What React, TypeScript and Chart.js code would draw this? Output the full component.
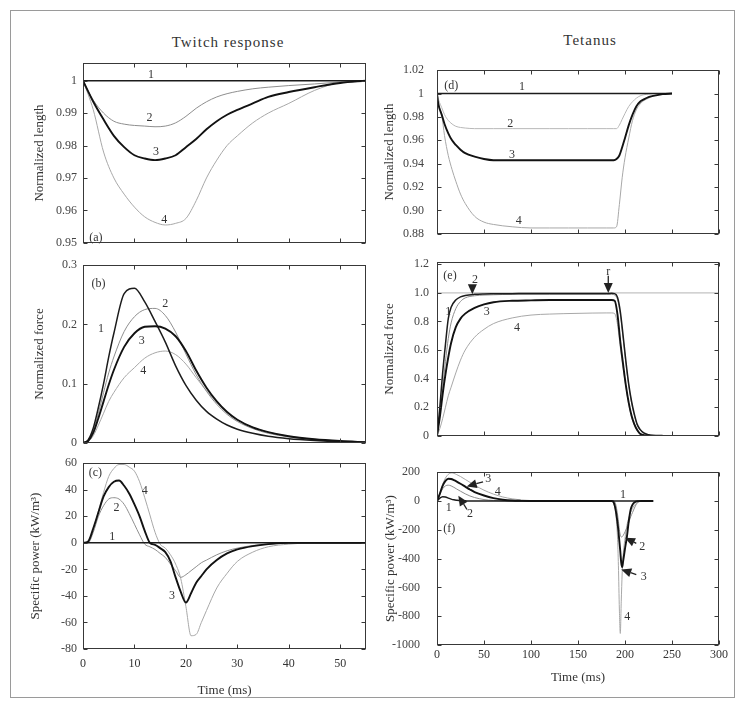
import React, { useEffect, useRef } from 'react';
import { Chart, registerables } from 'chart.js';

Chart.register(...registerables);
const SERIF = "'Liberation Serif', 'Times New Roman', serif";
Chart.defaults.font.family = SERIF;

// ---------- axis ticks ----------
const TW_X_TICKS = [0, 10, 20, 30, 40, 50];
const TW_X_LABELS = ['0', '10', '20', '30', '40', '50'];
const TE_X_TICKS = [0, 50, 100, 150, 200, 250, 300];
const TE_X_LABELS = ['0', '50', '100', '150', '200', '250', '300'];

const A_Y_TICKS = [0.95, 0.96, 0.97, 0.98, 0.99, 1];
const A_Y_LABELS = ['0.95', '0.96', '0.97', '0.98', '0.99', '1'];
const B_Y_TICKS = [0, 0.1, 0.2, 0.3];
const B_Y_LABELS = ['0', '0.1', '0.2', '0.3'];
const C_Y_TICKS = [-80, -60, -40, -20, 0, 20, 40, 60];
const C_Y_LABELS = ['-80', '-60', '-40', '-20', '0', '20', '40', '60'];
const D_Y_TICKS = [0.88, 0.9, 0.92, 0.94, 0.96, 0.98, 1, 1.02];
const D_Y_LABELS = ['0.88', '0.90', '0.92', '0.94', '0.96', '0.98', '1', '1.02'];
const E_Y_TICKS = [0, 0.2, 0.4, 0.6, 0.8, 1.0, 1.2];
const E_Y_LABELS = ['0', '0.2', '0.4', '0.6', '0.8', '1.0', '1.2'];
const F_Y_TICKS = [-1000, -800, -600, -400, -200, 0, 200];
const F_Y_LABELS = ['-1000', '-800', '-600', '-400', '-200', '0', '200'];

// ---------- (a) twitch, normalized length ----------
const A_T = [0, 2, 4, 6, 8, 10, 12, 14, 16, 18, 20, 22, 24, 26, 28, 30, 33, 36, 40, 45, 50, 55];
const A_1 = [1, 1, 1, 1, 1, 1, 1, 1, 1, 1, 1, 1, 1, 1, 1, 1, 1, 1, 1, 1, 1, 1];
const A_2 = [1.0, 0.994, 0.99, 0.9875, 0.9866, 0.9862, 0.986, 0.9858, 0.986, 0.987, 0.989, 0.9915, 0.9935, 0.995, 0.996, 0.9967, 0.9975, 0.998, 0.9985, 0.999, 0.9996, 1.0];
const A_3 = [1.0, 0.9935, 0.988, 0.983, 0.9795, 0.977, 0.976, 0.9755, 0.976, 0.977, 0.9795, 0.982, 0.985, 0.9875, 0.9895, 0.991, 0.993, 0.995, 0.9965, 0.998, 0.9993, 1.0];
const A_4 = [1.0, 0.991, 0.978, 0.97, 0.965, 0.961, 0.958, 0.9563, 0.9555, 0.956, 0.9575, 0.963, 0.97, 0.9755, 0.98, 0.983, 0.987, 0.99, 0.993, 0.997, 0.9995, 1.0];

// ---------- (b) twitch, normalized force ----------
const B_T = [0, 1, 2, 3, 4, 5, 6, 8, 10, 12, 14, 16, 18, 20, 22, 24, 26, 28, 30, 33, 36, 40, 45, 50, 55];
const B_1 = [0, 0.005, 0.025, 0.06, 0.1, 0.145, 0.185, 0.252, 0.261, 0.238, 0.205, 0.17, 0.13, 0.097, 0.072, 0.053, 0.04, 0.03, 0.023, 0.016, 0.011, 0.007, 0.004, 0.002, 0.001];
const B_2 = [0, 0.004, 0.02, 0.05, 0.085, 0.118, 0.145, 0.188, 0.213, 0.225, 0.227, 0.215, 0.187, 0.15, 0.115, 0.087, 0.065, 0.048, 0.036, 0.024, 0.016, 0.01, 0.005, 0.002, 0.001];
const B_3 = [0, 0.003, 0.017, 0.042, 0.07, 0.098, 0.123, 0.162, 0.185, 0.196, 0.197, 0.193, 0.18, 0.155, 0.122, 0.093, 0.07, 0.052, 0.039, 0.026, 0.018, 0.011, 0.006, 0.003, 0.001];
const B_4 = [0, 0.002, 0.012, 0.03, 0.05, 0.07, 0.085, 0.11, 0.127, 0.143, 0.152, 0.155, 0.149, 0.133, 0.11, 0.088, 0.068, 0.051, 0.039, 0.026, 0.018, 0.011, 0.006, 0.003, 0.001];

// ---------- (c) twitch, specific power ----------
const C_T = [0, 1, 2, 3, 4, 5, 6, 7, 8, 9, 10, 11, 12, 13, 14, 15, 16, 17, 18, 19, 20, 21, 22, 23, 24, 26, 28, 30, 33, 36, 40, 45, 50, 55];
const C_1 = [0, 0, 0, 0, 0, 0, 0, 0, 0, 0, 0, 0, 0, 0, 0, 0, 0, 0, 0, 0, 0, 0, 0, 0, 0, 0, 0, 0, 0, 0, 0, 0, 0, 0];
const C_2 = [0, 0, 8, 20, 28, 33, 34, 33, 29, 22, 14, 6, -1, -3, -5, -8, -11, -16, -21, -26, -24, -21, -18, -15, -13, -9, -6, -4, -2, -1, 0, 0, 0, 0];
const C_3 = [0, 1, 11, 23, 35, 42, 46, 47, 43, 37, 29, 20, 9, 0, -1.5, -4, -7, -14, -26, -37, -45, -38, -30, -25, -20, -13, -8, -5, -2.5, -1, 0, 0, 0, 0];
const C_4 = [0, 1, 10, 24, 38, 50, 56, 59, 59, 57, 54, 46, 34, 21, 8, -1, -4, -9, -16, -27, -48, -70, -69, -60, -51, -34, -23, -14, -7, -3, -1, 0, 0, 0];

// ---------- (d) tetanus, normalized length ----------
const D_T = [0, 1, 2, 5, 8, 12, 16, 20, 25, 30, 40, 50, 60, 80, 100, 120, 140, 160, 180, 188, 191, 194, 197, 200, 204, 208, 212, 216, 220, 225, 230, 240, 250];
const D_1 = [1, 1, 1, 1, 1, 1, 1, 1, 1, 1, 1, 1, 1, 1, 1, 1, 1, 1, 1, 1, 1, 1, 1, 1, 1, 1, 1, 1, 1, 1, 1, 1, 1];
const D_2 = [1, 0.997, 0.994, 0.988, 0.982, 0.977, 0.974, 0.972, 0.971, 0.9705, 0.97, 0.97, 0.97, 0.97, 0.97, 0.97, 0.97, 0.97, 0.97, 0.97, 0.97, 0.973, 0.978, 0.983, 0.989, 0.993, 0.996, 0.998, 0.999, 0.9995, 1, 1, 1];
const D_3 = [1, 0.993, 0.989, 0.982, 0.974, 0.966, 0.96, 0.956, 0.952, 0.949, 0.946, 0.944, 0.943, 0.943, 0.943, 0.943, 0.943, 0.943, 0.943, 0.943, 0.944, 0.947, 0.954, 0.962, 0.973, 0.982, 0.989, 0.993, 0.995, 0.997, 0.998, 0.9995, 1];
const D_4 = [1, 0.995, 0.99, 0.982, 0.964, 0.947, 0.935, 0.925, 0.914, 0.906, 0.895, 0.89, 0.888, 0.886, 0.885, 0.885, 0.885, 0.885, 0.885, 0.885, 0.886, 0.905, 0.928, 0.945, 0.962, 0.977, 0.986, 0.991, 0.994, 0.996, 0.998, 0.9995, 1];

// ---------- (e) tetanus, normalized force ----------
const E_T = [0, 3, 6, 9, 12, 15, 20, 25, 30, 40, 50, 60, 80, 100, 120, 150, 180, 186, 189, 192, 195, 198, 201, 204, 207, 210, 213, 216, 220, 225, 230, 240];
const E_1 = [0, 0.2, 0.44, 0.64, 0.82, 0.9, 0.95, 0.972, 0.982, 0.99, 0.993, 0.994, 0.995, 0.996, 0.996, 0.996, 0.996, 0.997, 0.995, 0.97, 0.87, 0.7, 0.52, 0.36, 0.24, 0.15, 0.08, 0.045, 0.02, 0.007, 0.002, 0];
const E_2 = [0, 0.14, 0.33, 0.52, 0.68, 0.79, 0.89, 0.94, 0.965, 0.98, 0.985, 0.987, 0.99, 0.99, 0.99, 0.99, 0.99, 0.99, 0.985, 0.955, 0.85, 0.68, 0.5, 0.35, 0.23, 0.14, 0.075, 0.04, 0.018, 0.006, 0.002, 0];
const E_3 = [0, 0.13, 0.29, 0.43, 0.55, 0.65, 0.76, 0.82, 0.855, 0.895, 0.92, 0.935, 0.945, 0.948, 0.95, 0.95, 0.95, 0.95, 0.945, 0.85, 0.66, 0.5, 0.35, 0.23, 0.14, 0.08, 0.04, 0.015, 0.005, 0.001, 0, 0];
const E_4 = [0, 0.05, 0.12, 0.2, 0.28, 0.34, 0.44, 0.53, 0.6, 0.69, 0.745, 0.785, 0.825, 0.845, 0.852, 0.857, 0.86, 0.86, 0.855, 0.78, 0.62, 0.47, 0.34, 0.22, 0.13, 0.075, 0.035, 0.015, 0.005, 0.001, 0, 0];
const E_REF_T = [0, 300];
const E_REF = [1, 1];

// ---------- (f) tetanus, specific power ----------
const F_T = [0, 3, 6, 9, 12, 15, 18, 21, 25, 30, 35, 40, 50, 60, 70, 80, 90, 100, 110, 150, 186, 188, 190, 192, 193, 194, 195, 196, 197, 198, 200, 202, 204, 206, 208, 211, 214, 218, 222, 230];
const F_1 = [0, 20, 30, 28, 20, 13, 8, 5, 2, 1, 0, 0, 0, 0, 0, 0, 0, 0, 0, 0, 0, 0, 0, 0, 0, 0, 0, 0, 0, 0, 0, 0, 0, 0, 0, 0, 0, 0, 0, 0];
const F_2 = [0, 45, 85, 105, 110, 105, 95, 83, 68, 50, 35, 24, 10, 4, 1, 0, 0, 0, 0, 0, 0, 0, -20, -90, -140, -200, -235, -250, -248, -240, -215, -185, -150, -110, -80, -35, -8, 0, 0, 0];
const F_3 = [0, 50, 105, 140, 155, 153, 145, 135, 120, 100, 80, 62, 38, 20, 9, 3, 1, 0, 0, 0, 0, -10, -60, -150, -210, -280, -350, -430, -460, -420, -330, -250, -140, -60, -25, -6, -1, 0, 0, 0];
const F_4 = [0, 55, 115, 160, 185, 195, 192, 183, 170, 150, 130, 110, 75, 48, 28, 15, 7, 3, 0, 0, 0, -20, -80, -250, -450, -750, -920, -700, -500, -380, -260, -170, -120, -80, -50, -22, -8, -1, 0, 0];

// ---------- annotations (data coordinates) ----------
type Note = { text: string; x: number; y: number };
type Arrow = { x1: number; y1: number; x2: number; y2: number };

const A_NOTES: Note[] = [
  { text: '1', x: 13.2, y: 1.0018 }, { text: '2', x: 12.9, y: 0.9884 },
  { text: '3', x: 14.2, y: 0.978 }, { text: '4', x: 15.8, y: 0.957 }, { text: '(a)', x: 2.5, y: 0.9515 },
];
const B_NOTES: Note[] = [
  { text: '(b)', x: 3, y: 0.268 }, { text: '1', x: 3.5, y: 0.192 }, { text: '2', x: 16, y: 0.234 },
  { text: '3', x: 11.4, y: 0.173 }, { text: '4', x: 11.7, y: 0.121 },
];
const C_NOTES: Note[] = [
  { text: '(c)', x: 2.4, y: 52.6 }, { text: '4', x: 12, y: 39 }, { text: '2', x: 6.5, y: 26.7 },
  { text: '1', x: 5.7, y: 4.4 }, { text: '3', x: 17.3, y: -40 },
];
const D_NOTES: Note[] = [
  { text: '(d)', x: 15.2, y: 1.0067 }, { text: '1', x: 90.4, y: 1.006 }, { text: '2', x: 78, y: 0.974 },
  { text: '3', x: 79.8, y: 0.9477 }, { text: '4', x: 86.9, y: 0.891 },
];
const E_NOTES: Note[] = [
  { text: '(e)', x: 13.8, y: 1.12 }, { text: '2', x: 40.4, y: 1.09 }, { text: 'r', x: 182.2, y: 1.15 },
  { text: '1', x: 12, y: 0.868 }, { text: '3', x: 53, y: 0.868 }, { text: '4', x: 85, y: 0.758 },
];
const E_ARROWS: Arrow[] = [
  { x1: 37.6, y1: 1.06, x2: 37.6, y2: 0.99 },
  { x1: 182.2, y1: 1.12, x2: 182.2, y2: 1.0 },
];
const F_NOTES: Note[] = [
  { text: '3', x: 54.6, y: 151 }, { text: '4', x: 64.5, y: 65 }, { text: '2', x: 35, y: -91 },
  { text: '1', x: 12.6, y: -45 }, { text: '(f)', x: 13, y: -190 }, { text: '1', x: 198, y: 44 },
  { text: '2', x: 218.4, y: -319 }, { text: '3', x: 220, y: -524 }, { text: '4', x: 202.5, y: -802 },
];
const F_ARROWS: Arrow[] = [
  { x1: 49, y1: 133, x2: 31.6, y2: 101 },
  { x1: 31.9, y1: -59, x2: 22.7, y2: 37 },
  { x1: 212, y1: -294, x2: 200, y2: -255 },
  { x1: 212, y1: -511, x2: 196, y2: -475 },
];

// ---------- styles ----------
const S1 = { color: '#1c1c1c', width: 1.5 };
const S2 = { color: '#8e8e8e', width: 1 };
const S3 = { color: '#121212', width: 1.9 };
const S4 = { color: '#a8a8a8', width: 1 };

type Series = { xs: number[]; ys: number[]; color: string; width: number };

function makeDecor(notes: Note[], arrows: Arrow[]) {
  return {
    id: 'decor',
    afterDatasetsDraw(chart: any) {
      const { ctx, chartArea: a } = chart;
      const xs = chart.scales.x;
      const ys = chart.scales.y;
      ctx.save();
      ctx.strokeStyle = '#383838';
      ctx.lineWidth = 1;
      const L = Math.round(a.left) + 0.5;
      const R = Math.round(a.right) - 0.5;
      const T = Math.round(a.top) + 0.5;
      const B = Math.round(a.bottom) - 0.5;
      ctx.strokeRect(L, T, R - L, B - T);
      ctx.beginPath();
      for (const t of xs.ticks) {
        const p = Math.round(xs.getPixelForValue(t.value)) + 0.5;
        ctx.moveTo(p, B); ctx.lineTo(p, B - 4);
        ctx.moveTo(p, T); ctx.lineTo(p, T + 4);
      }
      for (const t of ys.ticks) {
        const p = Math.round(ys.getPixelForValue(t.value)) + 0.5;
        ctx.moveTo(L, p); ctx.lineTo(L + 4, p);
        ctx.moveTo(R, p); ctx.lineTo(R - 4, p);
      }
      ctx.stroke();

      ctx.fillStyle = '#333';
      ctx.font = `12px ${SERIF}`;
      ctx.textAlign = 'center';
      ctx.textBaseline = 'middle';
      for (const n of notes) {
        ctx.fillText(n.text, xs.getPixelForValue(n.x), ys.getPixelForValue(n.y));
      }
      for (const ar of arrows) {
        const x1 = xs.getPixelForValue(ar.x1), y1 = ys.getPixelForValue(ar.y1);
        const x2 = xs.getPixelForValue(ar.x2), y2 = ys.getPixelForValue(ar.y2);
        const ang = Math.atan2(y2 - y1, x2 - x1);
        const hl = 10, hw = 4.5;
        const bx = x2 - hl * Math.cos(ang), by = y2 - hl * Math.sin(ang);
        ctx.strokeStyle = '#222';
        ctx.lineWidth = 1.3;
        ctx.beginPath(); ctx.moveTo(x1, y1); ctx.lineTo(bx, by); ctx.stroke();
        ctx.fillStyle = '#222';
        ctx.beginPath();
        ctx.moveTo(x2, y2);
        ctx.lineTo(bx + hw * Math.sin(ang), by - hw * Math.cos(ang));
        ctx.lineTo(bx - hw * Math.sin(ang), by + hw * Math.cos(ang));
        ctx.closePath(); ctx.fill();
      }
      ctx.restore();
    },
  };
}

type Spec = {
  left: number; width: number; top: number;
  plotLeft: number; plotRight: number; plotTop: number; plotBottom: number; xHeight: number;
  xMin: number; xMax: number; xTicks: number[]; xLabels: string[]; showX: boolean; xTickPad: number;
  yMin: number; yMax: number; yTicks: number[]; yLabels: string[]; yTitle: string; yTitlePad: number; yTickPad: number;
  series: Series[]; notes: Note[]; arrows: Arrow[];
};

function buildConfig(s: Spec): any {
  return {
    type: 'line',
    data: {
      datasets: s.series.map((se) => ({
        data: se.xs.map((x, i) => ({ x, y: se.ys[i] })),
        borderColor: se.color,
        borderWidth: se.width,
        pointRadius: 0,
        fill: false,
        cubicInterpolationMode: 'monotone',
      })),
    },
    options: {
      responsive: false,
      animation: false,
      devicePixelRatio: 1,
      layout: { padding: { left: 0, right: s.left + s.width - s.plotRight, top: s.plotTop - s.top, bottom: 0 } },
      plugins: { legend: { display: false }, tooltip: { enabled: false }, title: { display: false } },
      scales: {
        x: {
          type: 'linear', min: s.xMin, max: s.xMax,
          afterBuildTicks: (ax: any) => { ax.ticks = s.xTicks.map((v) => ({ value: v })); },
          afterFit: (ax: any) => { ax.height = s.xHeight; },
          grid: { display: false, drawTicks: false },
          border: { display: false },
          ticks: {
            display: s.showX, padding: s.xTickPad, color: '#333', font: { size: 12, family: SERIF },
            autoSkip: false, maxRotation: 0, callback: (_v: any, i: number) => s.xLabels[i],
          },
          title: {
            display: s.showX, text: 'Time (ms)', color: '#333', font: { size: 13, family: SERIF },
            padding: { top: 0, bottom: 2 },
          },
        },
        y: {
          type: 'linear', min: s.yMin, max: s.yMax,
          afterBuildTicks: (ax: any) => { ax.ticks = s.yTicks.map((v) => ({ value: v })); },
          afterFit: (ax: any) => { ax.width = s.plotLeft - s.left; },
          grid: { display: false, drawTicks: false },
          border: { display: false },
          ticks: {
            padding: s.yTickPad, color: '#444', font: { size: 12, family: SERIF },
            autoSkip: false, callback: (_v: any, i: number) => s.yLabels[i],
          },
          title: {
            display: true, text: s.yTitle, color: '#333', font: { size: 13, family: SERIF },
            padding: { top: s.yTitlePad, bottom: 0 },
          },
        },
      },
    },
    plugins: [makeDecor(s.notes, s.arrows)],
  };
}

function Panel({ spec }: { spec: Spec }) {
  const ref = useRef<HTMLCanvasElement>(null);
  const height = spec.plotBottom - spec.top + spec.xHeight;
  useEffect(() => {
    const chart = new Chart(ref.current as HTMLCanvasElement, buildConfig(spec));
    return () => chart.destroy();
  }, []);
  return (
    <canvas
      ref={ref}
      width={spec.width}
      height={height}
      style={{ position: 'absolute', left: spec.left, top: spec.top, width: spec.width, height }}
    />
  );
}

const LEFT = { left: 12, width: 360, plotLeft: 83, plotRight: 366, xMin: 0, xMax: 55, xTicks: TW_X_TICKS, xLabels: TW_X_LABELS, yTickPad: 6 };
const RIGHT = { left: 372, width: 362, plotLeft: 437, plotRight: 719, xMin: 0, xMax: 300, xTicks: TE_X_TICKS, xLabels: TE_X_LABELS };

const SPECS: Spec[] = [
  {
    ...LEFT, top: 50, plotTop: 62, plotBottom: 246, xHeight: 10, showX: false, xTickPad: 0,
    yMin: 0.95, yMax: 1.0054, yTicks: A_Y_TICKS, yLabels: A_Y_LABELS, yTitle: 'Normalized length', yTitlePad: 20,
    series: [
      { xs: A_T, ys: A_3, ...S3 }, { xs: A_T, ys: A_1, ...S1 }, { xs: A_T, ys: A_2, ...S2 }, { xs: A_T, ys: A_4, ...S4 },
    ],
    notes: A_NOTES, arrows: [],
  },
  {
    ...LEFT, top: 252, plotTop: 262, plotBottom: 446, xHeight: 10, showX: false, xTickPad: 0,
    yMin: 0, yMax: 0.3, yTicks: B_Y_TICKS, yLabels: B_Y_LABELS, yTitle: 'Normalized force', yTitlePad: 20,
    series: [
      { xs: B_T, ys: B_3, ...S3 }, { xs: B_T, ys: B_1, ...S1 }, { xs: B_T, ys: B_2, ...S2 }, { xs: B_T, ys: B_4, ...S4 },
    ],
    notes: B_NOTES, arrows: [],
  },
  {
    ...LEFT, top: 450, plotTop: 460, plotBottom: 649, xHeight: 51, showX: true, xTickPad: 8,
    yMin: -80, yMax: 60, yTicks: C_Y_TICKS, yLabels: C_Y_LABELS, yTitle: 'Specific power (kW/m³)', yTitlePad: 16,
    series: [
      { xs: C_T, ys: C_3, ...S3 }, { xs: C_T, ys: C_1, ...S1 }, { xs: C_T, ys: C_2, ...S2 }, { xs: C_T, ys: C_4, ...S4 },
    ],
    notes: C_NOTES, arrows: [],
  },
  {
    ...RIGHT, top: 50, plotTop: 62, plotBottom: 244, xHeight: 10, showX: false, xTickPad: 0, yTickPad: 13,
    yMin: 0.88, yMax: 1.02, yTicks: D_Y_TICKS, yLabels: D_Y_LABELS, yTitle: 'Normalized length', yTitlePad: 10,
    series: [
      { xs: D_T, ys: D_3, ...S3 }, { xs: D_T, ys: D_1, ...S1 }, { xs: D_T, ys: D_2, color: '#b8b8b8', width: 1 }, { xs: D_T, ys: D_4, ...S4 },
    ],
    notes: D_NOTES, arrows: [],
  },
  {
    ...RIGHT, top: 247, plotTop: 257, plotBottom: 441, xHeight: 10, showX: false, xTickPad: 0, yTickPad: 8,
    yMin: 0, yMax: 1.215, yTicks: E_Y_TICKS, yLabels: E_Y_LABELS, yTitle: 'Normalized force', yTitlePad: 10,
    series: [
      { xs: E_T, ys: E_3, ...S3 }, { xs: E_T, ys: E_1, ...S1 }, { xs: E_T, ys: E_2, ...S2 }, { xs: E_T, ys: E_4, ...S4 },
      { xs: E_REF_T, ys: E_REF, color: '#a0a0a0', width: 0.8 },
    ],
    notes: E_NOTES, arrows: E_ARROWS,
  },
  {
    ...RIGHT, top: 448, plotTop: 458, plotBottom: 645, xHeight: 42, showX: true, xTickPad: 3, yTickPad: 17,
    yMin: -1000, yMax: 200, yTicks: F_Y_TICKS, yLabels: F_Y_LABELS, yTitle: 'Specific power (kW/m³)', yTitlePad: 11,
    series: [
      { xs: F_T, ys: F_3, ...S3 }, { xs: F_T, ys: F_1, ...S1 }, { xs: F_T, ys: F_2, ...S2 }, { xs: F_T, ys: F_4, ...S4 },
    ],
    notes: F_NOTES, arrows: F_ARROWS,
  },
];

export default function App() {
  return (
    <div style={{ position: 'absolute', left: 0, top: 0, width: 744, height: 705, overflow: 'hidden', background: '#fff' }}>
      <div style={{ position: 'absolute', left: 10, top: 10, width: 725, height: 688, border: '1px solid #9a9a9a', boxSizing: 'border-box' }} />
      <div style={{ position: 'absolute', left: 128, top: 33, width: 200, textAlign: 'center', fontFamily: SERIF, fontSize: 15, letterSpacing: '1px', color: '#333', lineHeight: '18px' }}>
        Twitch response
      </div>
      <div style={{ position: 'absolute', left: 490, top: 31, width: 200, textAlign: 'center', fontFamily: SERIF, fontSize: 15, letterSpacing: '1px', color: '#333', lineHeight: '18px' }}>
        Tetanus
      </div>
      {SPECS.map((s, i) => (
        <Panel key={i} spec={s} />
      ))}
    </div>
  );
}
